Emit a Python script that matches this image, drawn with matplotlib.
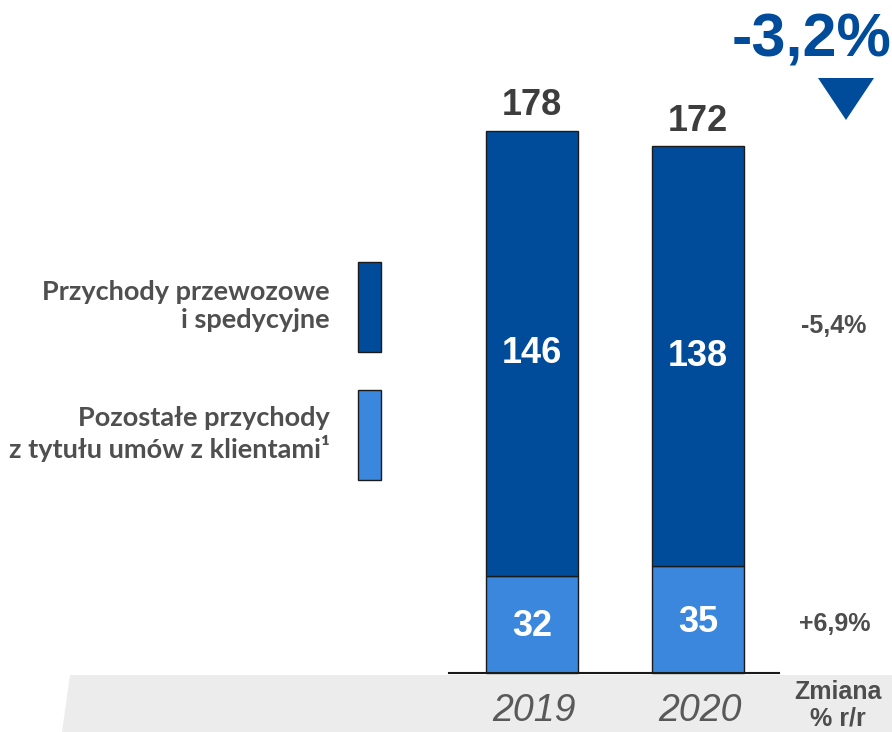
import matplotlib.pyplot as plt
from matplotlib.patches import Polygon, Rectangle

years = ["2019", "2020"]
przewozowe = [146, 138]
pozostale = [32, 35]
totals = ["178", "172"]
changes = ["-5,4%", "+6,9%"]
total_change = "-3,2%"
legend_labels = ["Przychody przewozowe\ni spedycyjne",
                 "Pozostałe przychody\nz tytułu umów z klientami¹"]

DARK = "#004c9b"
LIGHT = "#3a87dd"
GRAY = "#4d4d4d"
W, H = 892, 732

fig = plt.figure(figsize=(W / 100, H / 100), dpi=100)

def fx(px):
    return px / W

def fy(py):
    return 1 - py / H

# grey band under the axis
band = Polygon([(fx(70), fy(675)), (fx(892), fy(675)), (fx(892), fy(732)), (fx(62), fy(732))],
               closed=True, transform=fig.transFigure, facecolor="#ececec", edgecolor="none", zorder=0)
fig.patches.append(band)

ax = fig.add_axes([0, 0, 1, 1])
ax.set_xlim(-3.205, 2.169)
ax.set_ylim(-19.38, 221.0)
ax.axis("off")
ax.patch.set_alpha(0)

x = [0, 1]
ax.bar(x, pozostale, width=0.554, color=LIGHT, edgecolor="#1a1a1a", linewidth=1.0, zorder=2)
ax.bar(x, przewozowe, width=0.554, bottom=pozostale, color=DARK, edgecolor="#1a1a1a", linewidth=1.0, zorder=2)
ax.plot([-0.5, 1.49], [0, 0], color="#1a1a1a", linewidth=1.5, zorder=3)

bold = dict(family="Liberation Sans", weight="bold")
for i in range(2):
    top = pozostale[i] + przewozowe[i]
    ax.annotate(totals[i], (x[i], top), xytext=(0, 18), textcoords="offset points",
                ha="center", va="center", fontsize=26, color="#3d3d3d", **bold)
    ax.text(x[i], pozostale[i] + przewozowe[i] / 2, str(przewozowe[i]), ha="center", va="center",
            fontsize=26, color="white", **bold)
    ax.text(x[i], pozostale[i] / 2 - 0.8, str(pozostale[i]), ha="center", va="center",
            fontsize=26, color="white", **bold)
    fig.text(fx(534 + 166 * i), fy(711), years[i], ha="center", va="center", fontsize=27,
             family="Liberation Sans", style="italic", color="#595959")

# change column
fig.text(fx(834), fy(326), changes[0], ha="center", va="center", fontsize=18, color=GRAY, **bold)
fig.text(fx(835), fy(624), changes[1], ha="center", va="center", fontsize=18, color=GRAY, **bold)
fig.text(fx(838), fy(692), "Zmiana", ha="center", va="center", fontsize=18, color=GRAY, **bold)
fig.text(fx(838), fy(718), "% r/r", ha="center", va="center", fontsize=18, color=GRAY, **bold)

# overall change
fig.text(fx(812), fy(41), total_change, ha="center", va="center", fontsize=44, color=DARK, **bold)
tri = Polygon([(fx(818), fy(78)), (fx(874), fy(78)), (fx(846), fy(120))], closed=True,
              transform=fig.transFigure, facecolor=DARK, edgecolor="none")
fig.patches.append(tri)

# legend
for i, (lab, col) in enumerate(zip(legend_labels, [DARK, LIGHT])):
    y0 = [262, 390][i]
    fig.patches.append(Rectangle((fx(358), fy(y0 + 90)), fx(23), 90 / H, transform=fig.transFigure,
                                 facecolor=col, edgecolor="#1a1a1a", linewidth=1.0))
    fig.text(fx(330), fy([306, 434][i]), lab, ha="right", va="center", fontsize=19.5,
             family="Lato", weight="bold", color="#4f4f4f", linespacing=1.2)

fig.savefig("out.png", dpi=100)
